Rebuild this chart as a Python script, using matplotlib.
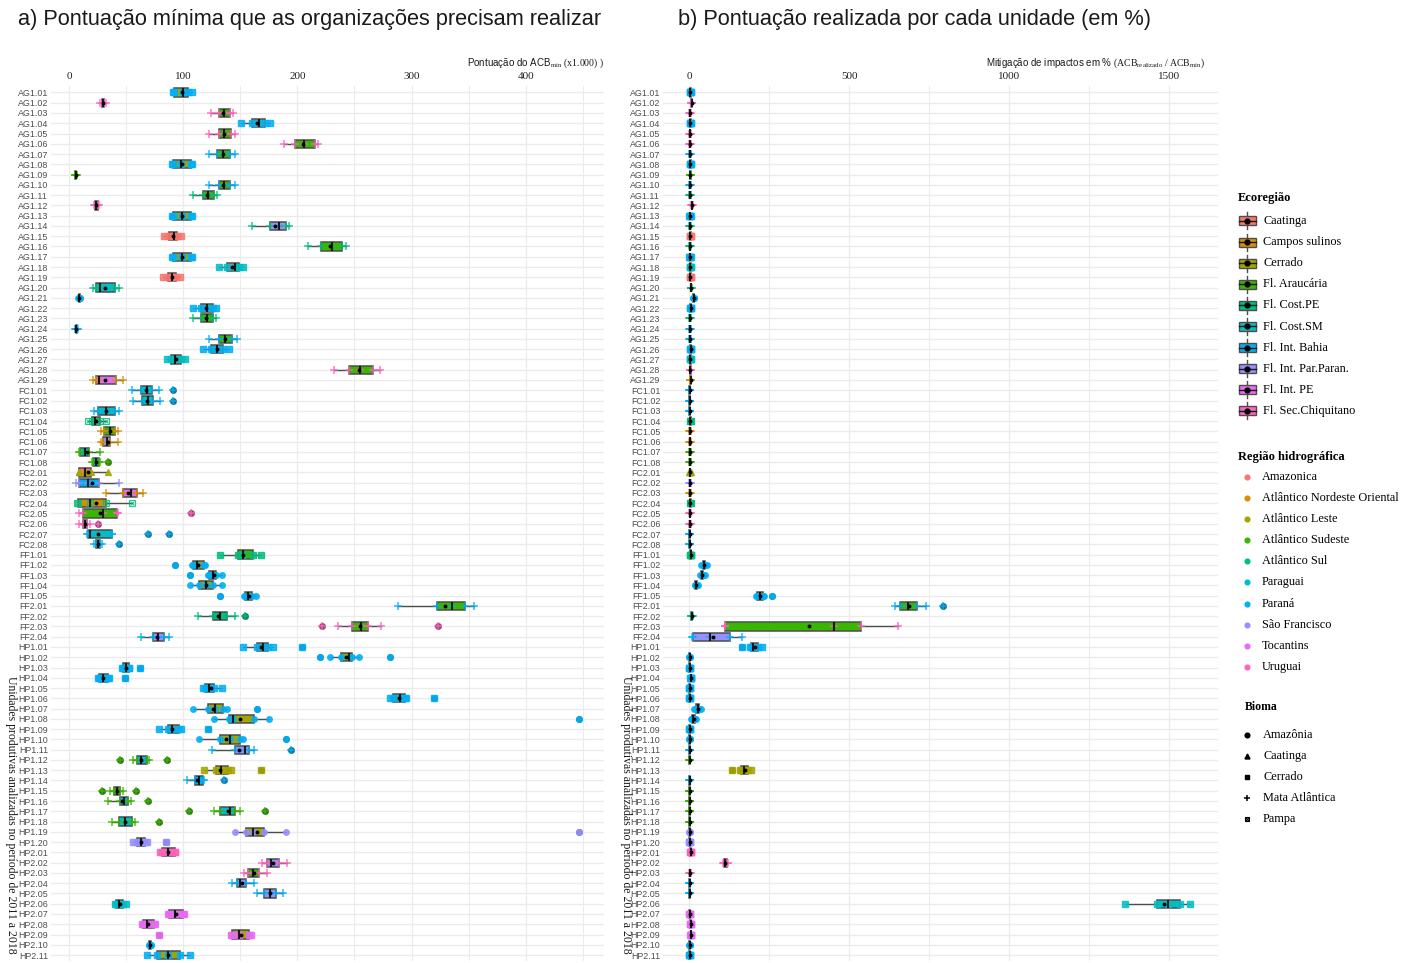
import numpy as np
import matplotlib
matplotlib.use("Agg")
import matplotlib.pyplot as plt
from matplotlib.ticker import MultipleLocator
from matplotlib.patches import Rectangle

plt.rcParams['mathtext.fontset'] = 'custom'
plt.rcParams['mathtext.rm'] = 'Liberation Serif'
plt.rcParams['mathtext.it'] = 'Liberation Serif:italic'
plt.rcParams['mathtext.bf'] = 'Liberation Serif:bold'

SANS = 'Liberation Sans'
SERIF = 'Liberation Serif'

# ---------------- data ----------------
units = ['AG1.01', 'AG1.02', 'AG1.03', 'AG1.04', 'AG1.05', 'AG1.06', 'AG1.07', 'AG1.08', 'AG1.09', 'AG1.10',
         'AG1.11', 'AG1.12', 'AG1.13', 'AG1.14', 'AG1.15', 'AG1.16', 'AG1.17', 'AG1.18', 'AG1.19', 'AG1.20',
         'AG1.21', 'AG1.22', 'AG1.23', 'AG1.24', 'AG1.25', 'AG1.26', 'AG1.27', 'AG1.28', 'AG1.29',
         'FC1.01', 'FC1.02', 'FC1.03', 'FC1.04', 'FC1.05', 'FC1.06', 'FC1.07', 'FC1.08',
         'FC2.01', 'FC2.02', 'FC2.03', 'FC2.04', 'FC2.05', 'FC2.06', 'FC2.07', 'FC2.08',
         'FF1.01', 'FF1.02', 'FF1.03', 'FF1.04', 'FF1.05',
         'FF2.01', 'FF2.02', 'FF2.03', 'FF2.04',
         'HP1.01', 'HP1.02', 'HP1.03', 'HP1.04', 'HP1.05', 'HP1.06', 'HP1.07', 'HP1.08', 'HP1.09', 'HP1.10',
         'HP1.11', 'HP1.12', 'HP1.13', 'HP1.14', 'HP1.15', 'HP1.16', 'HP1.17', 'HP1.18', 'HP1.19', 'HP1.20',
         'HP2.01', 'HP2.02', 'HP2.03', 'HP2.04', 'HP2.05', 'HP2.06', 'HP2.07', 'HP2.08', 'HP2.09', 'HP2.10', 'HP2.11']

eco_names = ['Caatinga', 'Campos sulinos', 'Cerrado', 'Fl. Araucária', 'Fl. Cost.PE', 'Fl. Cost.SM',
             'Fl. Int. Bahia', 'Fl. Int. Par.Paran.', 'Fl. Int. PE', 'Fl. Sec.Chiquitano']
eco_codes = ['Caa', 'Cam', 'Cer', 'Ara', 'CPE', 'CSM', 'IBa', 'IPP', 'IPE', 'SCh']
hydro_names = ['Amazonica', 'Atlântico Nordeste Oriental', 'Atlântico Leste', 'Atlântico Sudeste',
               'Atlântico Sul', 'Paraguai', 'Paraná', 'São Francisco', 'Tocantins', 'Uruguai']
hydro_codes = ['Ama', 'ANE', 'ALe', 'ASE', 'ASu', 'Pgu', 'Pna', 'SFr', 'Toc', 'Uru']
biome_names = ['Amazônia', 'Caatinga', 'Cerrado', 'Mata Atlântica', 'Pampa']
biome_codes = ['Amz', 'Caa', 'Cer', 'MA', 'Pam']
palette = ['#F8766D', '#D89000', '#A3A500', '#39B600', '#00BF7D',
           '#00BFC4', '#00B0F6', '#9590FF', '#E76BF3', '#FF62BC']

eco = ['Cer', 'Ara', 'Ara', 'Cer', 'Ara', 'Ara', 'Ara', 'Cer', 'Ara', 'Ara',
       'Ara', 'Ara', 'Cer', 'IPP', 'Caa', 'Ara', 'Cer', 'SCh', 'Caa', 'CSM',
       'IBa', 'Cer', 'Ara', 'IBa', 'Ara', 'Cer', 'Cer', 'Ara', 'IPE',
       'CSM', 'CSM', 'CSM', 'Cam', 'Ara', 'IPP', 'CSM', 'CSM',
       'Caa', 'IBa', 'IPE', 'Cam', 'Ara', 'SCh', 'CSM', 'CSM',
       'Ara', 'Cer', 'Cer', 'Cer', 'Cer',
       'Ara', 'CPE', 'Ara', 'IPP',
       'Cer', 'Cer', 'Cer', 'Cer', 'Cer', 'Cer', 'Cer', 'Cer', 'Cer', 'Cer',
       'IPP', 'IBa', 'Cer', 'IBa', 'Ara', 'IBa', 'CSM', 'CSM', 'Cer', 'Cer',
       'SCh', 'IPP', 'Ara', 'IPP', 'IPP', 'CSM', 'IPE', 'IPE', 'Cer', 'IBa', 'Cer']

hydro = ['Pna', 'Uru', 'Uru', 'Pna', 'Uru', 'Uru', 'Pna', 'Pna', 'ASE', 'Pna',
         'ASu', 'Uru', 'Pna', 'ASu', 'Ama', 'ASu', 'Pna', 'Pgu', 'Ama', 'ASu',
         'Pna', 'Pna', 'ASu', 'Pna', 'Pna', 'Pna', 'Pgu', 'Uru', 'ANE',
         'Pna', 'Pna', 'Pna', 'ASu', 'ANE', 'ANE', 'ASE', 'ASE',
         'ALe', 'SFr', 'ANE', 'ASu', 'Uru', 'Uru', 'Pna', 'Pna',
         'ASu', 'Pna', 'Pna', 'Pna', 'Pna',
         'Pna', 'ASu', 'Uru', 'Pna',
         'Pna', 'Pna', 'Pna', 'Pna', 'Pna', 'Pna', 'Pna', 'Pna', 'Pna', 'Pna',
         'Pna', 'ASE', 'ALe', 'Pna', 'ASE', 'ASE', 'ASE', 'ASE', 'SFr', 'SFr',
         'Uru', 'Uru', 'Uru', 'Pna', 'Pna', 'Pgu', 'Toc', 'Toc', 'Toc', 'Pna', 'Pna']

biome = ['Cer', 'MA', 'MA', 'Cer', 'MA', 'MA', 'MA', 'Cer', 'MA', 'MA',
         'MA', 'MA', 'Cer', 'MA', 'Cer', 'MA', 'Cer', 'Cer', 'Cer', 'MA',
         'Amz', 'Cer', 'MA', 'MA', 'MA', 'Cer', 'Cer', 'MA', 'MA',
         'MA', 'MA', 'MA', 'Pam', 'MA', 'MA', 'MA', 'MA',
         'Caa', 'MA', 'MA', 'Pam', 'MA', 'MA', 'MA', 'MA',
         'Cer', 'Amz', 'Amz', 'Amz', 'Amz',
         'MA', 'MA', 'MA', 'MA',
         'Cer', 'Amz', 'Cer', 'Cer', 'Cer', 'Cer', 'Amz', 'Amz', 'Cer', 'Amz',
         'MA', 'MA', 'Cer', 'MA', 'MA', 'MA', 'MA', 'MA', 'Amz', 'Cer',
         'Cer', 'MA', 'MA', 'MA', 'MA', 'Cer', 'Cer', 'Cer', 'Cer', 'Amz', 'Cer']

# Panel a: ACB_min score (x1.000)
a_lo = [91, 27, 124, 151, 123, 188, 123, 90, 5, 123, 109, 22, 90, 160, 83, 209, 90, 131, 82, 21,
        8, 109, 109, 5.5, 123, 117, 86, 232, 21,
        55, 56, 22, 17, 28, 28, 9, 20,
        8.5, 6, 32, 7, 9, 9, 16, 22,
        132, 108, 122, 106, 153,
        288, 113, 236, 63,
        152, 229, 46, 25, 117, 281, 109, 127, 79, 114, 125, 56, 118, 103, 36, 34, 127, 38, 145, 56,
        80, 169, 153, 143, 165, 40, 87, 64, 142, 70, 68]
a_q1 = [92, 29, 131, 160, 131, 198, 130, 91, 5.5, 131, 117, 23, 91, 176, 88, 221, 91, 138, 87, 24,
        8.5, 116, 116, 6, 131, 124, 89, 245, 24,
        63, 64, 25, 20, 31, 30, 10, 21,
        8.5, 8.5, 47, 7.5, 12.5, 12.5, 16.7, 24,
        148, 109, 123, 114, 154,
        322, 126, 248, 74,
        165, 238, 47.5, 26.5, 119, 284, 122, 140, 87, 132, 145, 60, 129, 110, 39.5, 44.5, 132.5, 44, 155, 60,
        81.5, 173, 157, 147, 171, 41.5, 88, 65, 143, 70.5, 77]
a_med = [100, 30, 136, 166, 136, 206, 135, 98, 6, 136, 122, 24, 99, 184, 92, 230, 99, 145, 90, 27,
         9, 121, 121, 6.5, 137, 130, 93, 255, 26,
         68, 69, 32, 23, 36, 33, 14, 23.5,
         14, 17, 54, 18, 30, 14, 18, 25.7,
         152, 112, 126, 120, 157,
         335, 132, 256, 78,
         170, 245, 50, 30, 123, 290, 128, 144, 90, 141, 154, 63, 133, 114, 42, 48, 141, 49, 161, 63,
         87, 177, 161, 150, 176, 44, 92.5, 68.6, 149, 71, 87]
a_q3 = [104, 31, 141, 172, 142, 215, 141, 107, 6.5, 141, 127, 25, 107, 190, 95, 239, 107, 149, 94, 40,
        9.5, 126, 126, 7, 143, 135, 98, 266, 41,
        73, 74, 40, 27, 40, 36, 17.5, 26,
        19.5, 26, 60, 32, 42, 16, 37.7, 27.5,
        161, 118, 129, 126, 160,
        347, 138, 262, 83,
        174, 248, 52.5, 34, 127, 294, 135, 162, 96, 150, 158, 68, 139, 117, 45, 52, 145, 55.5, 171, 67,
        92.5, 184, 166, 155, 181, 47, 100, 74.5, 158, 71.5, 97]
a_hi = [108, 32, 144, 176, 145, 218, 145, 108, 7, 145, 130, 26, 108, 193, 98, 243, 108, 152, 97, 44,
        10, 129, 129, 7.5, 147, 140, 102, 272, 47,
        79, 80, 44, 32, 43, 43, 27, 27,
        34, 44, 65, 55, 43, 18, 37.7, 29,
        168, 119, 134, 134, 164,
        355, 145, 273, 88,
        179, 254, 53, 35, 134, 295, 138, 175, 98, 152, 162, 70, 142, 118, 47, 54, 150, 57.5, 190, 68,
        93, 191, 173, 162, 187, 50, 101, 75, 159, 72, 106]
a_out = {'FC1.01': [91], 'FC1.02': [91], 'FC1.08': [34], 'FC2.05': [107], 'FC2.06': [25],
         'FC2.07': [69, 88], 'FC2.08': [44], 'FF1.02': [93], 'FF1.03': [106], 'FF1.05': [132],
         'FF2.02': [154], 'FF2.03': [222, 323], 'HP1.01': [204], 'HP1.02': [220, 281],
         'HP1.03': [62], 'HP1.04': [49], 'HP1.06': [320], 'HP1.07': [165], 'HP1.08': [447],
         'HP1.09': [122], 'HP1.10': [190], 'HP1.11': [194], 'HP1.12': [45, 86], 'HP1.13': [168],
         'HP1.14': [136], 'HP1.15': [29, 59], 'HP1.16': [69], 'HP1.17': [105, 172], 'HP1.18': [78.5],
         'HP1.19': [447], 'HP1.20': [85], 'HP2.09': [79]}

# Panel b: mitigation in % (ACB_realizado / ACB_min)
b_lo = [1, 6, 0, 1, 0, 0, 0, 1, 1, 0, 0, 7, 0, 0, 1, 0, 0, 1, 1, 4, 12, 2, 0, 0, 0, 2, 1, 1, 2,
        0, 0, 0, 1, 0, 0, 0, 0,
        0, 0, 0, 1, 0, 0, 0, 0,
        2, 38, 34, 17, 210,
        643, 5, 113, 10,
        190, 0, 0, 3, 0, 0, 14, 6, 0, 0, 0, 0, 160, 0, 0, 0, 0, 0, 0, 0,
        2, 104, 0, 0, 0, 1361, 0, 2, 3, 0, 0]
b_q1 = [2, 7, 1, 2, 1, 1, 1, 2, 2, 1, 1, 8, 1, 1, 2, 1, 1, 2, 2, 5, 13, 3, 1, 1, 1, 3, 2, 2, 3,
        0.5, 0.5, 0.5, 2, 1, 1, 1, 1,
        1, 1, 1, 2, 1, 1, 0.5, 0.5,
        3, 42, 37, 19, 213,
        660, 6, 113, 11,
        192, 0.5, 0.5, 4, 0.5, 0.5, 20, 9, 0.5, 0.5, 0.5, 0.5, 163, 0.5, 0.5, 0.5, 0.5, 0.5, 0.5, 0.5,
        3, 108, 1, 0.5, 0.5, 1461, 0.5, 3, 4, 0.5, 0.5]
b_med = [3, 8, 2, 3, 2, 2, 2, 3, 3, 2, 2, 9, 2, 2, 3, 2, 2, 3, 3, 6, 14, 4, 2, 2, 2, 4, 3, 3, 4,
         1, 1, 1, 3, 2, 2, 2, 2,
         2, 2, 2, 3, 2, 2, 1, 1,
         4, 46, 40, 22, 221,
         684, 8, 451, 65,
         200, 1, 1, 5, 1, 1, 26, 13, 1, 1, 1, 1, 171, 1, 1, 1, 1, 1, 1, 1,
         4, 113, 2, 1, 1, 1495, 1, 4, 5, 1, 1]
b_q3 = [4, 9, 3, 4, 3, 3, 3, 4, 4, 3, 3, 10, 3, 3, 4, 3, 3, 4, 4, 7, 15, 5, 3, 3, 3, 5, 4, 4, 5,
        1.5, 1.5, 1.5, 4, 3, 3, 3, 3,
        3, 3, 3, 4, 3, 3, 1.5, 1.5,
        5, 50, 44, 25, 229,
        712, 10, 537, 127,
        215, 1.5, 1.5, 6, 1.5, 1.5, 32, 18, 1.5, 1.5, 1.5, 1.5, 185, 1.5, 1.5, 1.5, 1.5, 1.5, 1.5, 1.5,
        5, 118, 3, 1.5, 1.5, 1533, 1.5, 5, 6, 1.5, 1.5]
b_hi = [5, 10, 4, 5, 4, 4, 4, 5, 5, 4, 4, 11, 4, 4, 5, 4, 4, 5, 5, 8, 16, 6, 4, 4, 4, 6, 5, 5, 6,
        2, 2, 2, 5, 4, 4, 4, 4,
        4, 4, 4, 5, 4, 4, 2, 2,
        6, 55, 48, 27, 232,
        740, 12, 653, 164,
        226, 2, 2, 7, 2, 2, 37, 22, 2, 2, 2, 2, 192, 2, 2, 2, 2, 2, 2, 2,
        6, 122, 4, 2, 2, 1564, 2, 6, 7, 2, 2]
b_out = {'FF1.05': [260], 'FF2.01': [792], 'HP1.01': [165], 'HP1.13': [135]}

# ---------------- helpers ----------------
eco_color = dict(zip(eco_codes, palette))
hydro_color = dict(zip(hydro_codes, palette))


def darken(hexc, f=0.5):
    c = np.array(matplotlib.colors.to_rgb(hexc))
    return tuple(c * f + 0.2 * (1 - f))


def draw_marker(ax, xs, ys, code, color, zorder=4, alpha=0.85, scale=1.0):
    if code == 'Amz':
        ax.plot(xs, ys, ls='none', marker='o', ms=4.0 * scale, mfc=color, mec=color, alpha=alpha, zorder=zorder)
    elif code == 'Caa':
        ax.plot(xs, ys, ls='none', marker='^', ms=4.2 * scale, mfc=color, mec=color, alpha=alpha, zorder=zorder)
    elif code == 'Cer':
        ax.plot(xs, ys, ls='none', marker='s', ms=3.7 * scale, mfc=color, mec=color, alpha=alpha, zorder=zorder)
    elif code == 'MA':
        ax.plot(xs, ys, ls='none', marker='+', ms=5.6 * scale, mew=1.1, color=color, alpha=alpha, zorder=zorder)
    else:
        ax.plot(xs, ys, ls='none', marker='s', ms=4.0 * scale, mfc='none', mec=color, mew=0.8, alpha=alpha, zorder=zorder)
        ax.plot(xs, ys, ls='none', marker='x', ms=3.2 * scale, mew=0.8, color=color, alpha=alpha, zorder=zorder)


def draw_panel(ax, lo, q1, med, q3, hi, out, xlim, major, minor):
    n = len(units)
    pos = np.arange(1, n + 1)
    stats, pts_all = [], []
    for i, u in enumerate(units):
        pts = [lo[i], q1[i], med[i], q3[i], hi[i]] + out.get(u, [])
        pts_all.append(pts)
        stats.append(dict(whislo=lo[i], q1=q1[i], med=med[i], q3=q3[i], whishi=hi[i],
                          mean=float(np.mean([lo[i], q1[i], med[i], q3[i], hi[i]])), fliers=[], label=u))
    kw = dict(positions=pos, widths=0.8, patch_artist=True, showmeans=True, showcaps=False,
              showfliers=False, zorder=2,
              boxprops=dict(edgecolor='#4d4d4d', linewidth=1.1),
              whiskerprops=dict(color='#4d4d4d', linewidth=1.0),
              medianprops=dict(color='#1a1a1a', linewidth=1.5, zorder=6),
              meanprops=dict(marker='o', markerfacecolor='black', markeredgecolor='black',
                             markersize=1.8, zorder=6))
    try:
        bp = ax.bxp(stats, orientation='horizontal', **kw)
    except TypeError:
        bp = ax.bxp(stats, vert=False, **kw)
    for patch, e in zip(bp['boxes'], eco):
        patch.set_facecolor(eco_color[e])
    for i, u in enumerate(units):
        ol = out.get(u, [])
        if ol:
            ax.plot(ol, [pos[i]] * len(ol), ls='none', marker='o', ms=4.0,
                    color=darken(hydro_color[hydro[i]]), zorder=3)
    for i in range(n):
        draw_marker(ax, pts_all[i], [pos[i]] * len(pts_all[i]), biome[i], hydro_color[hydro[i]])

    ax.set_xlim(*xlim)
    ax.set_ylim(n + 0.6, 0.4)
    ax.set_yticks(pos)
    ax.set_yticklabels(units, fontsize=6.4, color='#4d4d4d', family=SANS)
    ax.xaxis.tick_top()
    ax.set_xticks(major)
    ax.set_xticklabels([str(v) for v in major], fontsize=8, family=SERIF, color='#222222')
    ax.xaxis.set_minor_locator(MultipleLocator(minor))
    ax.tick_params(axis='both', which='both', length=0)
    ax.tick_params(axis='x', pad=4)
    ax.tick_params(axis='y', pad=2)
    ax.grid(axis='x', which='major', color='#EBEBEB', lw=0.9)
    ax.grid(axis='x', which='minor', color='#EBEBEB', lw=0.7)
    ax.grid(axis='y', which='major', color='#EBEBEB', lw=1.0)
    ax.set_axisbelow(True)
    for s in ax.spines.values():
        s.set_visible(False)


# ---------------- figure ----------------
W, H = 1411, 963
fig = plt.figure(figsize=(W / 100, H / 100), dpi=100)

top_px, bot_px = 86.3, 961.2
ax1 = fig.add_axes([50.7 / W, (H - bot_px) / H, (604 - 50.7) / W, (bot_px - top_px) / H])
ax2 = fig.add_axes([663 / W, (H - bot_px) / H, (1218 - 663) / W, (bot_px - top_px) / H])

draw_panel(ax1, a_lo, a_q1, a_med, a_q3, a_hi, a_out, (-16, 468.5), [0, 100, 200, 300, 400], 50)
draw_panel(ax2, b_lo, b_q1, b_med, b_q3, b_hi, b_out, (-82, 1652), [0, 500, 1000, 1500], 250)

# overlay in pixel coordinates for titles and legend
ov = fig.add_axes([0, 0, 1, 1])
ov.set_xlim(0, W)
ov.set_ylim(H, 0)
ov.axis('off')

ov.text(18, 20, "a) Pontuação mínima que as organizações precisam realizar", fontsize=15.7,
        family=SANS, va='center', ha='left', color='#1a1a1a')
ov.text(678, 20, "b) Pontuação realizada por cada unidade (em %)", fontsize=15.7,
        family=SANS, va='center', ha='left', color='#1a1a1a')

ov.text(604, 63, r"Pontuação do ACB$_{\mathrm{min}}$ $\mathrm{(x1.000)\ )}$", fontsize=7,
        family=SANS, va='center', ha='right', color='#1a1a1a')
ov.text(1205, 63, r"Mitigação de impactos em % $\mathrm{(ACB_{realizado}\ /\ ACB_{min})}$",
        fontsize=7, family=SANS, va='center', ha='right', color='#1a1a1a')

ylab = "Unidades produtivas analizadas no período de 2011 a 2018"
ov.text(11, 676, ylab, rotation=270, ha='center', va='top', family=SERIF, fontsize=8.5, color='#1a1a1a')
ov.text(626, 676, ylab, rotation=270, ha='center', va='top', family=SERIF, fontsize=8.5, color='#1a1a1a')

# Legend: Ecoregião
ov.text(1238, 198, "Ecoregião", fontsize=9, family=SERIF, weight='bold', va='center', ha='left')
for k, name in enumerate(eco_names):
    y = 221 + k * 21.1
    cx = 1247
    ov.plot([cx, cx], [y - 8.5, y + 8.5], color='#4d4d4d', lw=1.0, zorder=1)
    ov.add_patch(Rectangle((cx - 8.5, y - 4.5), 17, 9, facecolor=palette[k], edgecolor='#4d4d4d',
                           lw=1.0, zorder=2))
    ov.plot([cx - 8.5, cx + 8.5], [y, y], color='#1a1a1a', lw=1.0, zorder=3)
    ov.plot([cx], [y], marker='o', ms=3.5, color='black', zorder=4)
    ov.text(1263, y, name, fontsize=8.8, family=SERIF, va='center', ha='left')

# Legend: Região hidrográfica
ov.text(1238, 457, "Região hidrográfica", fontsize=9, family=SERIF, weight='bold', va='center', ha='left')
for k, name in enumerate(hydro_names):
    y = 477 + k * 21.1
    ov.plot([1247], [y], marker='o', ms=3.4, color=palette[k], ls='none')
    ov.text(1262, y, name, fontsize=8.8, family=SERIF, va='center', ha='left')

# Legend: Bioma
ov.text(1245, 707, "Bioma", fontsize=8.5, family=SERIF, weight='bold', va='center', ha='left')
for k, name in enumerate(biome_names):
    y = 735 + k * 21.1
    draw_marker(ov, [1247], [y], biome_codes[k], 'black', alpha=1.0, scale=0.85)
    ov.text(1263, y, name, fontsize=8.8, family=SERIF, va='center', ha='left')

fig.savefig("out.png", dpi=100)
